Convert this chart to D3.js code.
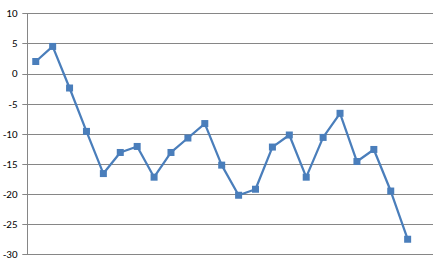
<!DOCTYPE html>
<html>
<head>
	<meta charset="UTF-8">
	<script src="https://cdn.jsdelivr.net/npm/d3@7"></script>
	<style>
		body { margin: 0; padding: 0; background: #fff; }
		text { font-family: Calibri, Carlito, "Liberation Sans", sans-serif; font-size: 11px; fill: #000; }
	</style>
</head>
<body>
	<script>
		var w = 439, h = 263;
		var margin = { top: 13.3, right: 6, bottom: 8.7, left: 27.3 };

		// 24 category slots, the last one is empty
		var categories = d3.range(1, 25);
		var values = [2.0, 4.5, -2.4, -9.6, -16.6, -13.1, -12.1, -17.2, -13.1, -10.7, -8.3,
			-15.2, -20.2, -19.2, -12.2, -10.2, -17.2, -10.6, -6.6, -14.6, -12.6, -19.5, -27.5];
		var yTicks = [10, 5, 0, -5, -10, -15, -20, -25, -30];

		var svg = d3.select("body").append("svg")
			.attr("width", w)
			.attr("height", h);

		var x = d3.scaleBand()
			.domain(categories)
			.range([margin.left, w - margin.right]);

		var y = d3.scaleLinear()
			.domain([-30, 10])
			.range([h - margin.bottom, margin.top]);

		// gridlines
		svg.append("g")
			.selectAll("line")
			.data(yTicks)
			.enter().append("line")
			.attr("x1", margin.left - 5)
			.attr("x2", w - margin.right)
			.attr("y1", function(d) { return Math.round(y(d)) + 0.5; })
			.attr("y2", function(d) { return Math.round(y(d)) + 0.5; })
			.attr("stroke", "#868686")
			.attr("stroke-width", 1);

		// vertical axis line
		svg.append("line")
			.attr("x1", Math.round(margin.left) + 0.5)
			.attr("x2", Math.round(margin.left) + 0.5)
			.attr("y1", y(10))
			.attr("y2", y(-30))
			.attr("stroke", "#868686");

		// tick labels
		svg.append("g")
			.selectAll("text")
			.data(yTicks)
			.enter().append("text")
			.attr("x", 17.5)
			.attr("y", function(d) { return y(d); })
			.attr("dy", "0.35em")
			.attr("text-anchor", "end")
			.text(function(d) { return d; });

		var pts = values.map(function(v, i) {
			return { x: x(categories[i]) + x.bandwidth() / 2, y: y(v) };
		});

		var line = d3.line()
			.x(function(d) { return d.x; })
			.y(function(d) { return d.y; });

		svg.append("path")
			.datum(pts)
			.attr("d", line)
			.attr("fill", "none")
			.attr("stroke", "#4A7EBB")
			.attr("stroke-width", 2.25)
			.attr("stroke-linejoin", "round");

		svg.append("g")
			.selectAll("rect")
			.data(pts)
			.enter().append("rect")
			.attr("x", function(d) { return d.x - 3.5; })
			.attr("y", function(d) { return d.y - 3.5; })
			.attr("width", 7)
			.attr("height", 7)
			.attr("fill", "#4A7EBB");
	</script>
</body>
</html>
